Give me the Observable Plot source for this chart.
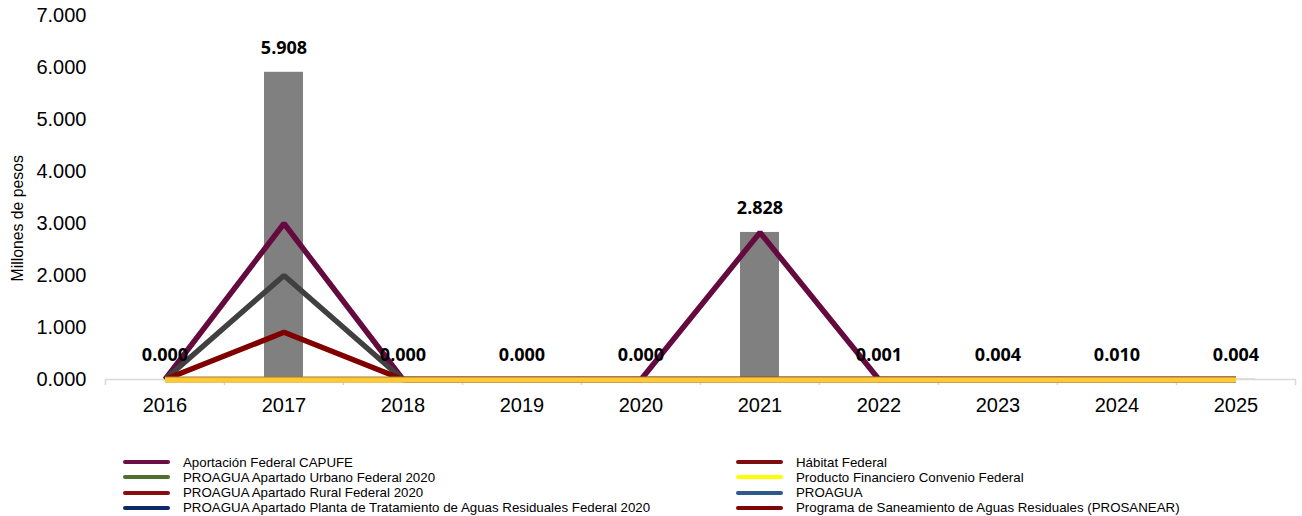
<!DOCTYPE html>
<html>
<head>
<meta charset="utf-8">
<script src="https://cdn.jsdelivr.net/npm/d3@7"></script>
<script src="https://cdn.jsdelivr.net/npm/@observablehq/plot@0.6"></script>
<style>
  html, body { margin: 0; padding: 0; background: #fff; }
  #chart svg { display: block; }
  #legend { position: relative; width: 1302px; height: 76px; font-family: "Liberation Sans", Arial, sans-serif; font-size: 13.3px; color: #000; }
  .item { position: absolute; display: flex; align-items: center; height: 15px; white-space: nowrap; }
  .sw { width: 47px; height: 4px; border-radius: 2px; margin-right: 13px; }
</style>
</head>
<body>
<div id="chart"></div>
<div id="legend"></div>
<script>
// ---- data ----
const years = ["2016", "2017", "2018", "2019", "2020", "2021", "2022", "2023", "2024", "2025"];
const totals = [0.000, 5.908, 0.000, 0.000, 0.000, 2.828, 0.001, 0.004, 0.010, 0.004];
const capufeLine = [0, 3.000, 0, 0, 0, 2.828, 0, 0, 0, 0];
const grayLine = [0, 2.000, 0, 0, 0, 0, 0, 0, 0, 0];
const redLine = [0, 0.908, 0, 0, 0, 0, 0, 0, 0, 0];
const goldLine = [0, 0, 0, 0, 0, 0, 0, 0, 0, 0];
const yTicks = [0, 1, 2, 3, 4, 5, 6, 7];
const yTitle = "Millones de pesos";

const legendLeft = [
  "Aportación Federal CAPUFE",
  "PROAGUA Apartado Urbano Federal 2020",
  "PROAGUA Apartado Rural Federal 2020",
  "PROAGUA Apartado Planta de Tratamiento de Aguas Residuales Federal 2020"
];
const legendLeftColors = ["#6b1046", "#4f6f2f", "#8b0a0a", "#0e2a66"];
const legendRight = [
  "Hábitat Federal",
  "Producto Financiero Convenio Federal",
  "PROAGUA",
  "Programa de Saneamiento de Aguas Residuales (PROSANEAR)"
];
const legendRightColors = ["#7f0d0d", "#ffff00", "#2e5a8a", "#7f0606"];

// ---- table ----
const rows = years.map((year, i) => ({
  year,
  total: totals[i],
  capufe: capufeLine[i],
  gray: grayLine[i],
  red: redLine[i],
  gold: goldLine[i]
}));

const fmt = d3.format(".3f");
const W = 1302, H = 440, ML = 105, MR = 6;
const halfStep = (W - ML - MR) / years.length / 2;

const lineOpts = {x: "year", strokeWidth: 5.5, strokeLinejoin: "miter", strokeLinecap: "butt"};

const plot = Plot.plot({
  width: W,
  height: H,
  marginLeft: ML,
  marginRight: MR,
  marginTop: 15,
  marginBottom: 61,
  style: {fontFamily: "'Liberation Sans', Arial, sans-serif", color: "#000", background: "#fff"},
  x: {type: "band", domain: years, paddingInner: 0.67, paddingOuter: 0.335},
  y: {domain: [0, 7]},
  marks: [
    Plot.axisY({ticks: yTicks, tickFormat: fmt, tickSize: 0, tickPadding: 19, fontSize: 20, label: null}),
    Plot.axisX({tickSize: 0, tickPadding: 18, fontSize: 20, label: null}),
    Plot.ruleY([0], {stroke: "#d9d9d9", strokeWidth: 1.5}),
    Plot.axisX({tickSize: 6, tickPadding: 0, dx: -halfStep, tickFormat: () => "", stroke: "#d9d9d9", strokeWidth: 1.5, label: null}),
    Plot.axisX({ticks: [years[years.length - 1]], tickSize: 6, tickPadding: 0, dx: halfStep, tickFormat: () => "", stroke: "#d9d9d9", strokeWidth: 1.5, label: null}),
    Plot.barY(rows, {x: "year", y: "total", fill: "#808080"}),
    Plot.line(rows, {...lineOpts, y: "capufe", stroke: "#650a3f"}),
    Plot.line(rows, {...lineOpts, y: "gray", stroke: "#404040"}),
    Plot.line(rows, {...lineOpts, y: "red", stroke: "#800000"}),
    Plot.line(rows, {...lineOpts, y: "gold", stroke: "#a5793a", strokeWidth: 6}),
    Plot.line(rows, {...lineOpts, y: "gold", stroke: "#fdc935", strokeWidth: 5, dy: 0.5}),
    Plot.text(rows, {x: "year", y: "total", text: d => fmt(d.total), dy: -24, fontSize: 18, fontWeight: "bold", fontFamily: "'Open Sans', sans-serif", fill: "#000"}),
    Plot.text([yTitle], {frameAnchor: "left", rotate: -90, dx: -88, dy: 84, fontSize: 15.8, fill: "#000"})
  ]
});
document.getElementById("chart").appendChild(plot);

// ---- legend ----
const legend = document.getElementById("legend");
function addColumn(names, colors, left) {
  names.forEach((name, i) => {
    const item = document.createElement("div");
    item.className = "item";
    item.style.left = left + "px";
    item.style.top = (14.5 + i * 15.3) + "px";
    const sw = document.createElement("span");
    sw.className = "sw";
    sw.style.background = colors[i];
    const t = document.createElement("span");
    t.textContent = name;
    item.appendChild(sw);
    item.appendChild(t);
    legend.appendChild(item);
  });
}
addColumn(legendLeft, legendLeftColors, 123);
addColumn(legendRight, legendRightColors, 736);
</script>
</body>
</html>
